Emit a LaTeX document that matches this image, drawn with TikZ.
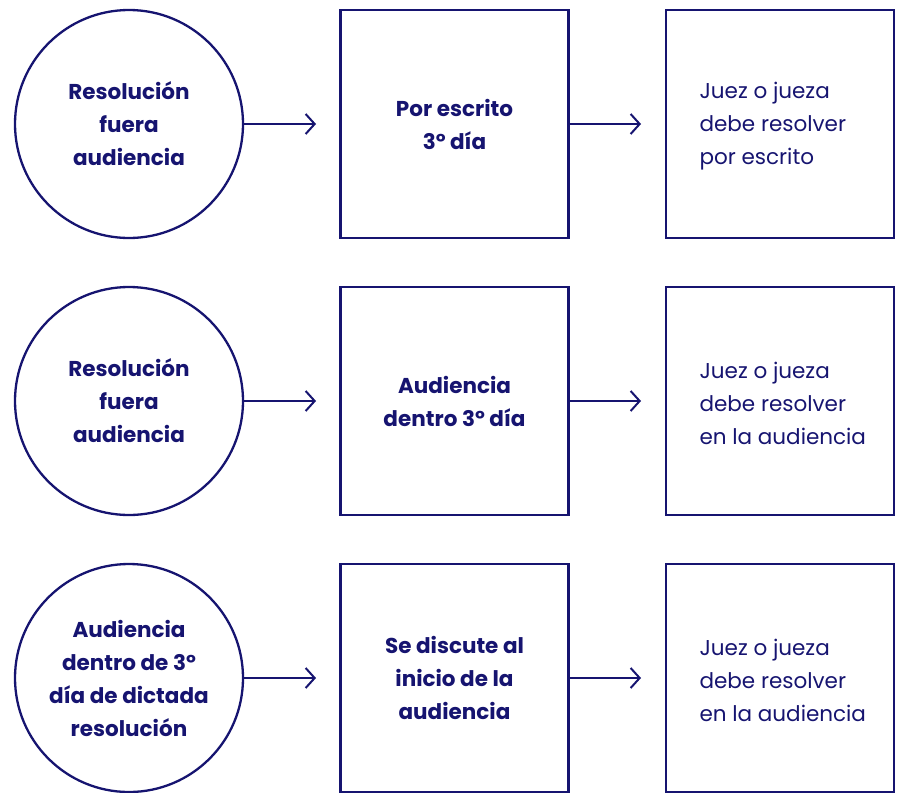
\documentclass[tikz,border=0pt]{standalone}
\usepackage{fontspec}
\setmainfont{Poppins}
\usetikzlibrary{arrows.meta}
\definecolor{navy}{RGB}{22,20,112}
\begin{document}
\begin{tikzpicture}[x=1pt,y=-1pt,
  every node/.style={text=navy},
  circ/.style={circle,draw=navy,line width=2.3pt,minimum size=228pt,inner sep=0pt,align=center,font=\bfseries\fontsize{21.5}{33}\selectfont},
  midbox/.style={rectangle,draw=navy,line width=2.3pt,minimum width=228pt,minimum height=228pt,inner sep=0pt,align=center,font=\bfseries\fontsize{21.5}{33}\selectfont},
  rbox/.style={rectangle,draw=navy,line width=2.3pt,minimum width=228pt,minimum height=228pt,inner sep=0pt},
  rtext/.style={anchor=west,align=left,font=\fontsize{21.5}{33}\selectfont},
  arr/.style={draw=navy,line width=2pt,-{Straight Barb[length=9pt,width=20pt,line width=2pt]}}
]
\useasboundingbox (0,0) rectangle (901,792);
% row 1
\node[circ] (c1) at (129,124) {Resolución\\fuera\\audiencia};
\node[midbox] (m1) at (454.5,124) {Por escrito\\3º día};
\node[rbox] (r1) at (780,124) {};
\node[rtext] (t1) at (696,126) {Juez o jueza\\debe resolver\\por escrito};
\coordinate (a1) at (316,124);
\coordinate (b1) at (641,124);
\draw[arr] (c1.east) -- (a1);
\draw[arr] (m1.east) -- (b1);
% row 2
\node[circ] (c2) at (129,401) {Resolución\\fuera\\audiencia};
\node[midbox] (m2) at (454.5,401) {Audiencia\\dentro 3º día};
\node[rbox] (r2) at (780,401) {};
\node[rtext] (t2) at (696,403) {Juez o jueza\\debe resolver\\en la audiencia};
\coordinate (a2) at (316,401);
\coordinate (b2) at (641,401);
\draw[arr] (c2.east) -- (a2);
\draw[arr] (m2.east) -- (b2);
% row 3
\node[circ] (c3) at (129,678) {Audiencia\\dentro de 3º\\día de dictada\\resolución};
\node[midbox] (m3) at (454.5,678) {Se discute al\\inicio de la\\audiencia};
\node[rbox] (r3) at (780,678) {};
\node[rtext] (t3) at (696,680) {Juez o jueza\\debe resolver\\en la audiencia};
\coordinate (a3) at (316,678);
\coordinate (b3) at (641,678);
\draw[arr] (c3.east) -- (a3);
\draw[arr] (m3.east) -- (b3);
\end{tikzpicture}
\end{document}
